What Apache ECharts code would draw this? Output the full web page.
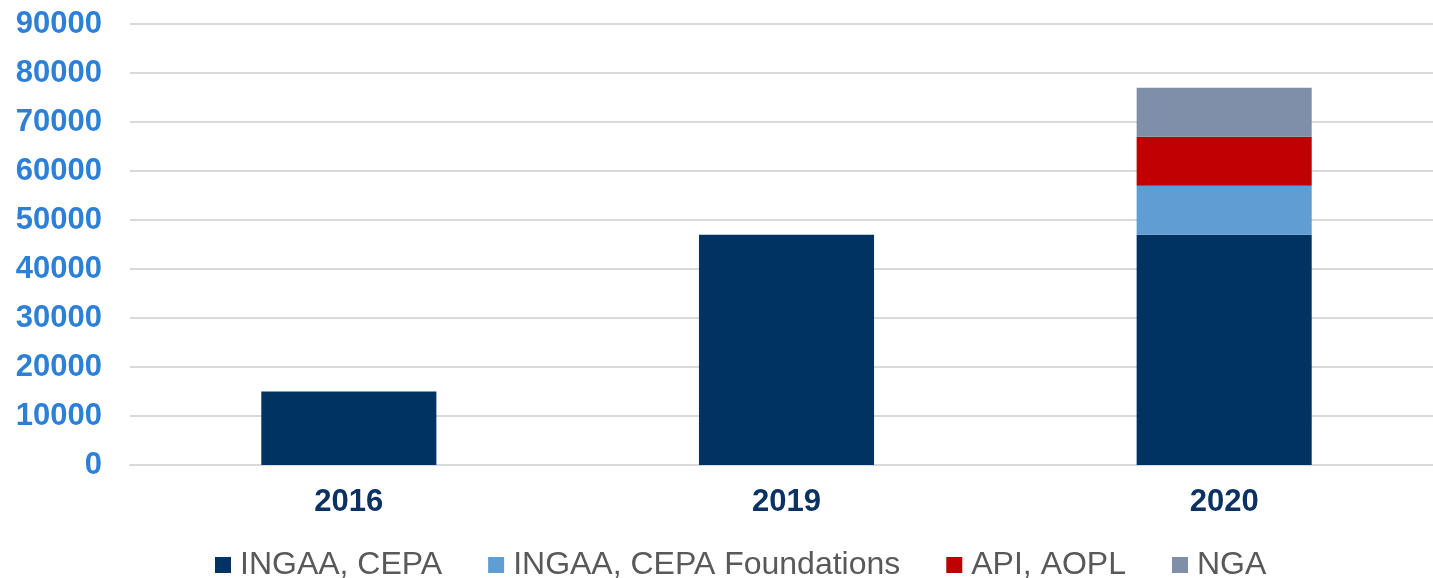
<!DOCTYPE html>
<html>
<head>
<meta charset="utf-8">
<script src="https://cdn.jsdelivr.net/npm/echarts@6/dist/echarts.min.js"></script>
<style>
html,body{margin:0;padding:0;background:#fff;overflow:hidden;width:1433px;height:578px;}
#chart{width:1443px;height:578px;}
</style>
</head>
<body>
<div id="chart"></div>
<script>
const categories = ['2016', '2019', '2020'];
const seriesNames = ['INGAA, CEPA', 'INGAA, CEPA Foundations', 'API, AOPL', 'NGA'];
const ingaaCepa = [15000, 47000, 47000];
const ingaaCepaFoundations = [null, null, 10000];
const apiAopl = [null, null, 10000];
const nga = [null, null, 10000];
const colors = ['#003262', '#5F9DD2', '#C00000', '#7F8FA9'];

const chart = echarts.init(document.getElementById('chart'), null, {renderer: 'canvas'});
const values = [ingaaCepa, ingaaCepaFoundations, apiAopl, nga];
chart.setOption({
  animation: false,
  color: colors,
  textStyle: {fontFamily: 'Liberation Sans, Arial, sans-serif'},
  grid: {left: 130, right: 0, top: 24, bottom: 113, containLabel: false},
  legend: {
    data: seriesNames,
    left: 215,
    top: 549,
    padding: 0,
    itemWidth: 16,
    itemHeight: 16,
    itemGap: 46,
    icon: 'rect',
    textStyle: {color: '#595959', fontSize: 32, fontFamily: 'Liberation Sans, Arial, sans-serif', padding: [0, 0, 0, 4]}
  },
  xAxis: {
    type: 'category',
    data: categories,
    axisLine: {show: true, lineStyle: {color: '#D9D9D9', width: 2}},
    axisTick: {show: false},
    axisLabel: {color: '#0B3262', fontSize: 31, fontWeight: 'bold', margin: 22}
  },
  yAxis: {
    type: 'value',
    min: 0,
    max: 90000,
    interval: 10000,
    axisLine: {show: false},
    axisTick: {show: false},
    splitLine: {lineStyle: {color: '#D9D9D9', width: 2}},
    axisLabel: {color: '#2C80D8', fontSize: 31, fontWeight: 'bold', margin: 28, formatter: v => String(v)}
  },
  series: seriesNames.map((n, i) => ({
    name: n,
    type: 'bar',
    stack: 'total',
    barWidth: '40%',
    data: values[i]
  }))
});
</script>
</body>
</html>
